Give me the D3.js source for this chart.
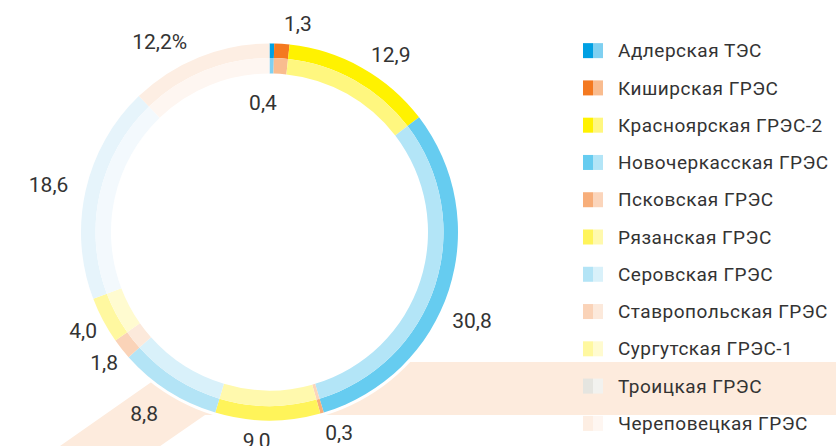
<!DOCTYPE html>
<html>
<head>
<meta charset="utf-8">
<script src="https://cdn.jsdelivr.net/npm/d3@7"></script>
<style>
  body { margin: 0; background: #fff; }
  text { font-family: Roboto, "Open Sans", sans-serif; fill: #333; }
</style>
</head>
<body>
<div id="chart"></div>
<script>
// Structure of installed capacity by power plant, %
var stations = ["Адлерская ТЭС", "Киширская ГРЭС", "Красноярская ГРЭС-2", "Новочеркасская ГРЭС",
  "Псковская ГРЭС", "Рязанская ГРЭС", "Серовская ГРЭС", "Ставропольская ГРЭС",
  "Сургутская ГРЭС-1", "Троицкая ГРЭС", "Череповецкая ГРЭС"];
var shares = [0.4, 1.3, 12.9, 30.8, 0.3, 9.0, 8.8, 1.8, 4.0, 18.6, 12.2];

// ring colours: outer (dark) and inner (light)
var outerColors = ["#00a0e3", "#f47920", "#fff200", "#66ccf0", "#f7ae7a", "#fff45a",
  "#b3e4f6", "#fad3b8", "#fff8a0", "#e6f4fb", "#fdeee3"];
var innerColors = ["#7fd0f1", "#f9bc8f", "#fff77f", "#b3e5f7", "#fbd5bb", "#fff9ad",
  "#d9f1fa", "#fce9db", "#fffbd0", "#f3f9fd", "#fef6f1"];
// legend swatches (Troitsk drawn grey in the legend)
var legendDark = outerColors.slice(0, 9).concat(["#e5e5e0", "#fdeee3"]);
var legendLight = innerColors.slice(0, 9).concat(["#f2f2ef", "#fef6f1"]);

// label placement: angle nudge (deg) and radius for each value label
var labelNudge = [-3.6, 4, 5, 5.7, -3, 3, 2, 0, 0, -0.5, -8];
var labelRadius = [130, 210, 215, 221, 212, 209, 221, 211, 211, 226, 220];

var svgWidth = 836;
var svgHeight = 446;
var cx = 269.5, cy = 232;
var rOuter = 188.5, rMid = 174, rInner = 158.5;

var svg = d3.select("#chart")
  .append("svg")
  .attr("width", svgWidth)
  .attr("height", svgHeight);

// peach band in the background
svg.append("path")
  .attr("d", "M836,362 L180,362 L40,460 L140,460 L205,415 L836,415 Z")
  .attr("fill", "#fdebdd");

var chartGroup = svg.append("g")
  .attr("transform", `translate(${cx}, ${cy})`);

// white disc so the band passes behind the ring
chartGroup.append("circle")
  .attr("r", rOuter + 3)
  .attr("fill", "#fff");

var pie = d3.pie().sort(null).value(d => d);
var arcs = pie(shares);

var outerArc = d3.arc().innerRadius(rMid).outerRadius(rOuter);
var innerArc = d3.arc().innerRadius(rInner).outerRadius(rMid);

chartGroup.selectAll(".outer")
  .data(arcs)
  .enter()
  .append("path")
  .attr("class", "outer")
  .attr("d", outerArc)
  .attr("fill", (d, i) => outerColors[i]);

chartGroup.selectAll(".inner")
  .data(arcs)
  .enter()
  .append("path")
  .attr("class", "inner")
  .attr("d", innerArc)
  .attr("fill", (d, i) => innerColors[i]);

// value labels
var fmt = d3.format(".1f");
chartGroup.selectAll(".val")
  .data(arcs)
  .enter()
  .append("text")
  .attr("class", "val")
  .attr("text-anchor", "middle")
  .attr("dy", "0.35em")
  .attr("font-size", "21px")
  .attr("x", (d, i) => {
    var a = (d.startAngle + d.endAngle) / 2 + labelNudge[i] * Math.PI / 180;
    return labelRadius[i] * Math.sin(a);
  })
  .attr("y", (d, i) => {
    var a = (d.startAngle + d.endAngle) / 2 + labelNudge[i] * Math.PI / 180;
    return -labelRadius[i] * Math.cos(a);
  })
  .text((d, i) => fmt(d.data).replace(".", ",") + (i === shares.length - 1 ? "%" : ""));

// legend
var legendY = d3.scaleBand()
  .domain(stations)
  .range([32, 442]);

var legend = svg.selectAll(".legend")
  .data(stations)
  .enter()
  .append("g")
  .attr("class", "legend")
  .attr("transform", d => `translate(583, ${legendY(d) + legendY.bandwidth() / 2})`);

legend.append("rect")
  .attr("x", 0).attr("y", -7.5)
  .attr("width", 10).attr("height", 15)
  .attr("fill", (d, i) => legendDark[i]);

legend.append("rect")
  .attr("x", 10).attr("y", -7.5)
  .attr("width", 10).attr("height", 15)
  .attr("fill", (d, i) => legendLight[i]);

legend.append("text")
  .attr("x", 35)
  .attr("dy", "0.35em")
  .attr("font-size", "19px")
  .attr("letter-spacing", "0.5px")
  .text(d => d);
</script>
</body>
</html>
